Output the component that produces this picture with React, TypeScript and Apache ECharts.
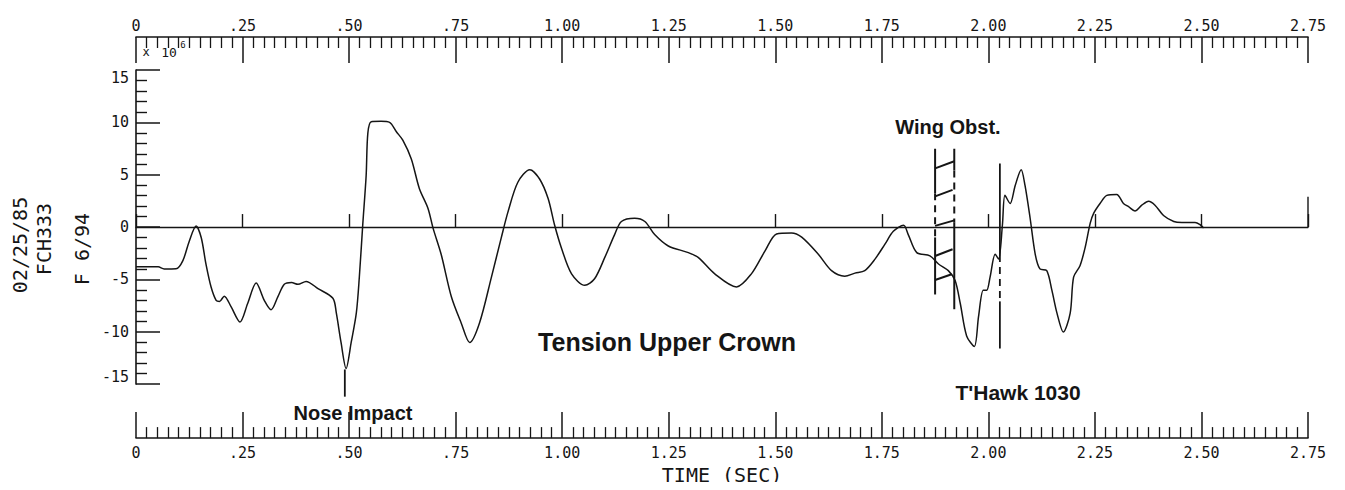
import React, { useEffect, useRef } from 'react';
import * as echarts from 'echarts';

// ---- data (time in seconds, tension in x10^6) ----
const timeSec = [
  0.000, 0.052, 0.066, 0.094, 0.110, 0.125, 0.141, 0.153, 0.164, 0.176,
  0.188, 0.196, 0.207, 0.223, 0.244, 0.262, 0.282, 0.301, 0.317, 0.333,
  0.348, 0.365, 0.380, 0.399, 0.427, 0.462, 0.470, 0.481, 0.493, 0.505,
  0.517, 0.524, 0.532, 0.540, 0.544, 0.552, 0.575, 0.595, 0.611, 0.626,
  0.646, 0.665, 0.685, 0.697, 0.716, 0.740, 0.763, 0.783, 0.806, 0.834,
  0.857, 0.873, 0.896, 0.924, 0.947, 0.967, 0.982, 0.998, 1.022, 1.053,
  1.076, 1.100, 1.123, 1.139, 1.170, 1.194, 1.217, 1.249, 1.296, 1.319,
  1.358, 1.409, 1.444, 1.476, 1.503, 1.538, 1.562, 1.601, 1.632, 1.663,
  1.687, 1.710, 1.734, 1.757, 1.777, 1.801, 1.812, 1.832, 1.863, 1.883,
  1.906, 1.922, 1.934, 1.949, 1.967, 1.977, 1.988, 1.996, 2.004, 2.016,
  2.024, 2.033, 2.039, 2.051, 2.063, 2.077, 2.086, 2.098, 2.110, 2.121,
  2.137, 2.149, 2.161, 2.176, 2.192, 2.200, 2.215, 2.227, 2.239, 2.247,
  2.262, 2.278, 2.301, 2.317, 2.329, 2.344, 2.360, 2.376, 2.391, 2.411,
  2.435, 2.454, 2.485, 2.497, 2.505,
];
const tension = [
  -3.78, -3.80, -4.00, -3.98, -3.20, -1.35, 0.10, -1.00, -3.50, -5.70,
  -7.00, -7.10, -6.60, -7.60, -9.06, -7.30, -5.35, -7.00, -7.90, -6.65,
  -5.47, -5.30, -5.47, -5.19, -5.88, -6.80, -8.20, -11.00, -13.50, -11.00,
  -8.20, -4.80, 0.20, 4.90, 8.97, 10.06, 10.10, 10.00, 9.10, 8.30,
  6.50, 3.66, 1.80, -0.10, -2.60, -6.66, -9.16, -11.03, -9.16, -4.78,
  -1.03, 1.47, 4.28, 5.47, 4.59, 2.72, 0.22, -1.97, -4.47, -5.56,
  -4.94, -2.90, -0.72, 0.53, 0.84, 0.53, -0.72, -1.81, -2.44, -2.90,
  -4.47, -5.72, -4.47, -2.28, -0.66, -0.56, -0.97, -2.60, -4.16, -4.69,
  -4.40, -4.16, -3.06, -1.66, -0.41, 0.16, -0.72, -2.44, -2.75, -3.53,
  -4.16, -5.10, -7.28, -10.40, -11.40, -8.53, -6.03, -6.03, -4.78, -2.60,
  -3.06, 0.22, 3.03, 2.25, 3.97, 5.47, 3.97, 0.84, -2.60, -4.00,
  -4.16, -6.03, -8.22, -10.03, -8.22, -4.78, -3.69, -1.97, 0.38, 1.31,
  2.25, 3.03, 3.12, 2.25, 1.94, 1.53, 2.09, 2.47, 2.09, 1.10,
  0.53, 0.44, 0.44, 0.22, -0.09,
];

const timeTickLabels = ['0', '.25', '.50', '.75', '1.00', '1.25', '1.50', '1.75', '2.00', '2.25', '2.50', '2.75'];
const tensionTickLabels = ['-15', '-10', '-5', '0', '5', '10', '15'];

// annotation segments in data coordinates: [x1, y1, x2, y2, dashed]
const noseImpactSeg = [0.490, -13.6, 0.490, -16.2, 0];
const wingLeftSegs = [
  [1.875, 7.48, 1.875, 3.24, 0],
  [1.875, 3.24, 1.875, -0.99, 1],
  [1.875, -0.99, 1.875, -6.44, 0],
];
const wingRightSegs = [
  [1.920, 7.48, 1.920, 5.41, 0],
  [1.920, 5.41, 1.920, 0.42, 1],
  [1.920, 0.42, 1.920, -7.85, 0],
];
const wingHatchSegs = [
  [1.875, 5.60, 1.920, 6.28, 0],
  [1.875, 2.93, 1.916, 3.55, 0],
  [1.875, 0.11, 1.920, 0.64, 0],
  [1.875, -2.77, 1.916, -2.12, 0],
  [1.875, -5.06, 1.914, -4.51, 0],
];
const thawkSegs = [
  [2.027, 6.07, 2.027, -2.68, 0],
  [2.027, -2.68, 2.027, -7.10, 1],
  [2.027, -7.10, 2.027, -11.60, 0],
];
const zeroEndTick = [2.75, 0, 2.75, 2.9, 0];

const INK = '#151515';
const MONO = '"DejaVu Sans Mono", monospace';
const SANS = '"Liberation Sans", Arial, sans-serif';

function timeLabel(v: number): string {
  const idx = Math.round(v / 0.25);
  return timeTickLabels[idx] ?? '';
}
function tensionLabel(v: number): string {
  const idx = Math.round((v + 15) / 5);
  return tensionTickLabels[idx] ?? '';
}

function segSeries(seg: number[], width = 1.6) {
  return {
    type: 'line',
    xAxisIndex: 0,
    yAxisIndex: 0,
    data: [[seg[0], seg[1]], [seg[2], seg[3]]],
    symbol: 'none',
    clip: false,
    silent: true,
    z: 4,
    lineStyle: { color: INK, width, type: seg[4] ? [7, 5] : 'solid' },
  };
}

export default function App() {
  const ref = useRef<HTMLDivElement>(null);
  useEffect(() => {
    if (!ref.current) return;
    const chart = echarts.init(ref.current, undefined, { renderer: 'svg' });
    const axisLineStyle = { color: INK, width: 1.6 };
    const timeAxisBase = {
      type: 'value',
      min: 0,
      max: 2.75,
      interval: 0.25,
      splitLine: { show: false },
      minorSplitLine: { show: false },
    };
    const option = {
      animation: false,
      backgroundColor: '#ffffff',
      grid: { left: 136, right: 37, top: 70, bottom: 101, containLabel: false },
      xAxis: [
        {
          ...timeAxisBase,
          position: 'top',
          offset: 33,
          axisLine: { show: true, onZero: false, lineStyle: axisLineStyle },
          axisTick: { show: true, inside: true, length: 26, lineStyle: { color: INK, width: 1.5 } },
          minorTick: { show: true, splitNumber: 10, length: 11, lineStyle: { color: INK, width: 1.3 } },
          axisLabel: { margin: 4, formatter: timeLabel, fontFamily: MONO, fontSize: 15, color: INK },
        },
        {
          ...timeAxisBase,
          position: 'bottom',
          offset: 54,
          name: 'TIME (SEC)',
          nameLocation: 'middle',
          nameGap: 33,
          nameTextStyle: { fontFamily: MONO, fontSize: 20, color: INK, verticalAlign: 'middle' },
          axisLine: { show: true, onZero: false, lineStyle: axisLineStyle },
          axisTick: { show: true, inside: true, length: 26, lineStyle: { color: INK, width: 1.5 } },
          minorTick: { show: true, splitNumber: 10, length: 11, lineStyle: { color: INK, width: 1.3 } },
          axisLabel: { margin: 7, formatter: timeLabel, fontFamily: MONO, fontSize: 15, color: INK },
        },
        {
          ...timeAxisBase,
          position: 'bottom',
          axisLine: { show: true, onZero: true, lineStyle: { color: INK, width: 1.4 } },
          axisTick: { show: true, inside: true, length: 13, lineStyle: { color: INK, width: 1.4 } },
          minorTick: { show: false },
          axisLabel: { show: false },
        },
      ],
      yAxis: {
        type: 'value',
        min: -15,
        max: 15,
        interval: 5,
        position: 'left',
        splitLine: { show: false },
        minorSplitLine: { show: false },
        axisLine: { show: true, onZero: false, lineStyle: axisLineStyle },
        axisTick: { show: true, inside: true, length: 24, lineStyle: { color: INK, width: 1.5 } },
        minorTick: { show: true, splitNumber: 5, length: 11, lineStyle: { color: INK, width: 1.4 } },
        axisLabel: {
          margin: 7,
          formatter: tensionLabel,
          fontFamily: MONO,
          fontSize: 15,
          color: INK,
          verticalAlignMaxLabel: 'top',
          verticalAlignMinLabel: 'bottom',
        },
      },
      series: [
        {
          type: 'line',
          name: 'Tension Upper Crown',
          xAxisIndex: 0,
          yAxisIndex: 0,
          data: timeSec.map((t, i) => [t, tension[i]]),
          symbol: 'none',
          smooth: 0.3,
          z: 5,
          lineStyle: { color: INK, width: 1.5 },
        },
        segSeries(noseImpactSeg, 1.8),
        ...wingLeftSegs.map((s) => segSeries(s, 2)),
        ...wingRightSegs.map((s) => segSeries(s, 2)),
        ...wingHatchSegs.map((s) => segSeries(s, 2)),
        ...thawkSegs.map((s) => segSeries(s, 1.8)),
        segSeries(zeroEndTick, 1.4),
      ],
      graphic: [
        { type: 'text', x: 353, y: 413, style: { text: 'Nose Impact', fontFamily: SANS, fontWeight: 'bold', fontSize: 20, fill: INK, align: 'center', verticalAlign: 'middle' } },
        { type: 'text', x: 948, y: 127, style: { text: 'Wing Obst.', fontFamily: SANS, fontWeight: 'bold', fontSize: 20, fill: INK, align: 'center', verticalAlign: 'middle' } },
        { type: 'text', x: 1018, y: 392, style: { text: "T'Hawk 1030", fontFamily: SANS, fontWeight: 'bold', fontSize: 21, fill: INK, align: 'center', verticalAlign: 'middle' } },
        { type: 'text', x: 667, y: 342, style: { text: 'Tension Upper Crown', fontFamily: SANS, fontWeight: 'bold', fontSize: 25, fill: INK, align: 'center', verticalAlign: 'middle' } },
        { type: 'text', x: 20, y: 245, rotation: Math.PI / 2, style: { text: '02/25/85', fontFamily: MONO, fontSize: 20, fill: INK, align: 'center', verticalAlign: 'middle' } },
        { type: 'text', x: 44, y: 239, rotation: Math.PI / 2, style: { text: 'FCH333', fontFamily: MONO, fontSize: 20, fill: INK, align: 'center', verticalAlign: 'middle' } },
        { type: 'text', x: 82, y: 249, rotation: Math.PI / 2, style: { text: 'F 6/94', fontFamily: MONO, fontSize: 20, fill: INK, align: 'center', verticalAlign: 'middle' } },
        { type: 'text', x: 146, y: 52, style: { text: 'x', fontFamily: MONO, fontSize: 12, fill: INK, align: 'center', verticalAlign: 'middle' } },
        { type: 'text', x: 169, y: 52, style: { text: '10', fontFamily: MONO, fontSize: 13, fill: INK, align: 'center', verticalAlign: 'middle' } },
        { type: 'text', x: 183, y: 45, style: { text: '6', fontFamily: MONO, fontSize: 9, fill: INK, align: 'center', verticalAlign: 'middle' } },
      ],
    };
    chart.setOption(option as any);
    return () => chart.dispose();
  }, []);
  return <div ref={ref} style={{ width: 1345, height: 490, margin: -8 }} />;
}
